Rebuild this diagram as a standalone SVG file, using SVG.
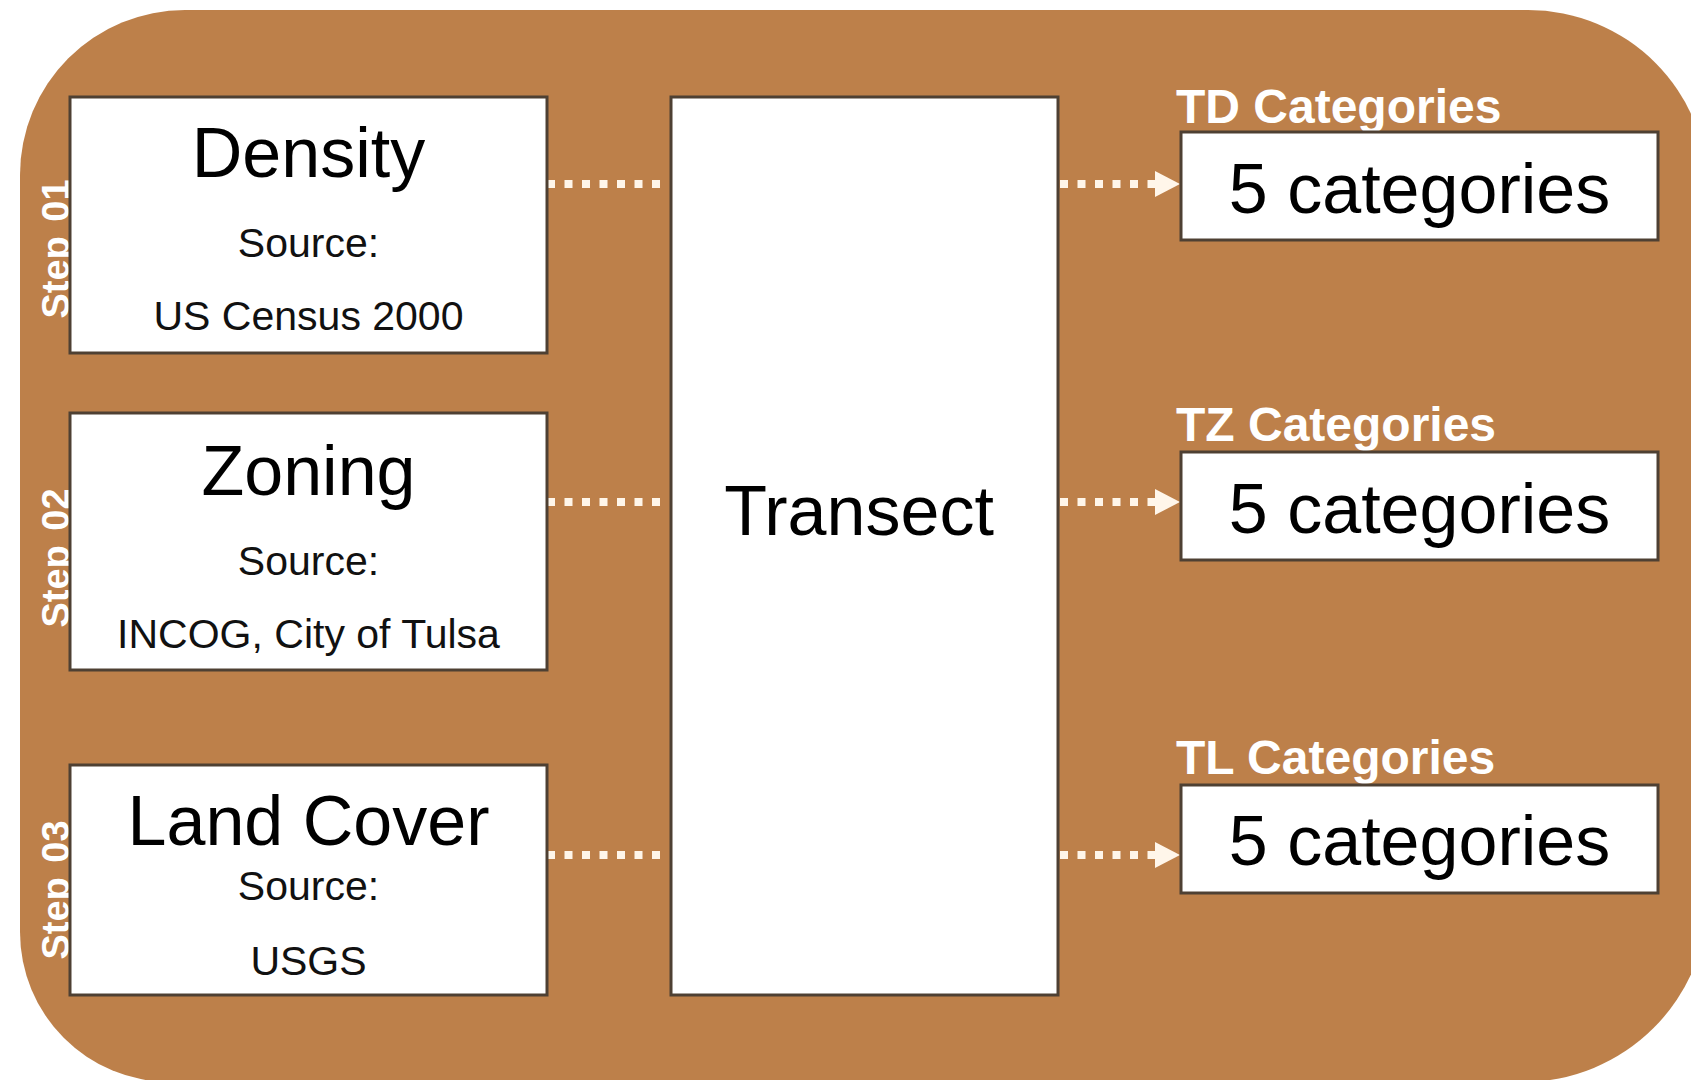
<svg xmlns="http://www.w3.org/2000/svg" width="1691" height="1080" viewBox="0 0 1691 1080">
  <style>
    .panel { fill: #bd804a; }
    .box { fill: #ffffff; stroke: #4e4033; stroke-width: 3; }
    .title { font-family: "Liberation Sans", Arial, sans-serif; font-size: 70px; fill: #000; text-anchor: middle; }
    .sub { font-family: "Liberation Sans", Arial, sans-serif; font-size: 41px; fill: #111; text-anchor: middle; }
    .step { font-family: "Liberation Sans", Arial, sans-serif; font-weight: bold; font-size: 38px; fill: #fff; text-anchor: middle; word-spacing: 4px; }
    .cat { font-family: "Liberation Sans", Arial, sans-serif; font-weight: bold; font-size: 48px; fill: #fff; }
    .dots { stroke: #fff6ea; stroke-width: 8; stroke-dasharray: 8 9.5; fill: none; }
    .head { fill: #fff6ea; }
  </style>

  <!-- rounded panel -->
  <path class="panel" d="M20,175 A165,165 0 0 1 185,10 L1528,10 A180,180 0 0 1 1708,190 L1708,897 A185,185 0 0 1 1523,1082 L170,1082 A150,150 0 0 1 20,932 Z"/>

  <!-- step labels (drawn under the boxes) -->
  <g id="step-labels">
    <text class="step" transform="translate(69,249) rotate(-90)">Step 01</text>
    <text class="step" transform="translate(69,558) rotate(-90)">Step 02</text>
    <text class="step" transform="translate(69,890) rotate(-90)">Step 03</text>
  </g>

  <!-- connectors -->
  <g id="connectors">
    <line class="dots" x1="547" y1="184" x2="664" y2="184"/>
    <line class="dots" x1="547" y1="502" x2="664" y2="502"/>
    <line class="dots" x1="547" y1="855" x2="664" y2="855"/>

    <line class="dots" x1="1060" y1="184" x2="1160" y2="184"/>
    <polygon class="head" points="1155,171 1180,184 1155,197"/>
    <line class="dots" x1="1060" y1="502" x2="1160" y2="502"/>
    <polygon class="head" points="1155,489 1180,502 1155,515"/>
    <line class="dots" x1="1060" y1="855" x2="1160" y2="855"/>
    <polygon class="head" points="1155,842 1180,855 1155,868"/>
  </g>

  <g id="density">
    <rect class="box" x="70" y="97" width="477" height="256"/>
    <text class="title" x="308.5" y="177">Density</text>
    <text class="sub" x="308.5" y="257">Source:</text>
    <text class="sub" x="308.5" y="330">US Census 2000</text>
  </g>

  <g id="zoning">
    <rect class="box" x="70" y="413" width="477" height="257"/>
    <text class="title" x="308.5" y="495">Zoning</text>
    <text class="sub" x="308.5" y="575">Source:</text>
    <text class="sub" x="308.5" y="648">INCOG, City of Tulsa</text>
  </g>

  <g id="land-cover">
    <rect class="box" x="70" y="765" width="477" height="230"/>
    <text class="title" x="308.5" y="845">Land Cover</text>
    <text class="sub" x="308.5" y="900">Source:</text>
    <text class="sub" x="308.5" y="975">USGS</text>
  </g>

  <g id="transect">
    <rect class="box" x="671" y="97" width="387" height="898"/>
    <text class="title" x="859" y="535">Transect</text>
  </g>

  <g id="td-categories">
    <text class="cat" x="1176" y="123">TD Categories</text>
    <rect class="box" x="1181" y="132" width="477" height="108"/>
    <text class="title" x="1419.5" y="213">5 categories</text>
  </g>

  <g id="tz-categories">
    <text class="cat" x="1176" y="441">TZ Categories</text>
    <rect class="box" x="1181" y="452" width="477" height="108"/>
    <text class="title" x="1419.5" y="533">5 categories</text>
  </g>

  <g id="tl-categories">
    <text class="cat" x="1176" y="774">TL Categories</text>
    <rect class="box" x="1181" y="785" width="477" height="108"/>
    <text class="title" x="1419.5" y="865">5 categories</text>
  </g>
</svg>
